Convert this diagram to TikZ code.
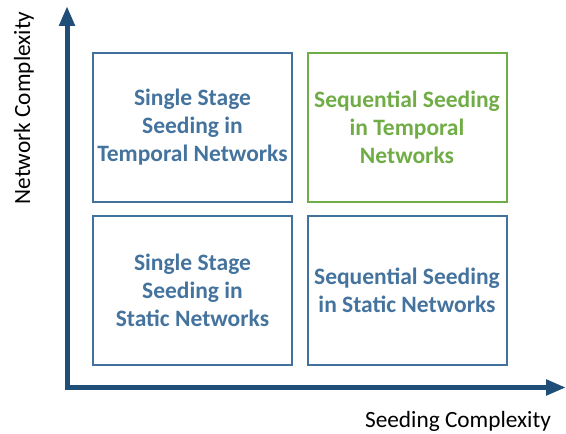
\documentclass[tikz,border=0pt]{standalone}
\usepackage{fontspec}
\setmainfont{Carlito}
\usetikzlibrary{arrows.meta}
\definecolor{axisblue}{HTML}{1F4E79}
\definecolor{boxblue}{HTML}{41719C}
\definecolor{txtblue}{HTML}{44739E}
\definecolor{boxgreen}{HTML}{70AD47}
\tikzset{
  quad/.style={draw=boxblue, line width=2bp, minimum width=199bp, minimum height=149bp,
    inner sep=0pt, align=center, text=txtblue, font=\fontsize{23.5bp}{28bp}\selectfont\bfseries},
  greenquad/.style={quad, draw=boxgreen, text=boxgreen},
  axislabel/.style={font=\fontsize{23.3bp}{27bp}\selectfont, text=black, inner sep=0pt},
  axis/.style={draw=axisblue, line width=5bp, line join=miter,
    {Triangle[length=20bp,width=15bp]}-{Triangle[length=20bp,width=15bp]}}
}
\begin{document}
\begin{tikzpicture}[x=1bp,y=-1bp]
\useasboundingbox (0,0) rectangle (566,434);
\coordinate (ytip) at (67,6);
\coordinate (origin) at (67,387.5);
\coordinate (xtip) at (566,387.5);
\draw[axis] (ytip) -- (origin) -- (xtip);
\node[quad] (tl) at (192.5,127.5) {Single Stage\\Seeding in\\Temporal Networks};
\node[greenquad] (tr) at (407,127.5) {Sequential Seeding\\in Temporal\\Networks};
\node[quad] (bl) at (192.5,290.5) {Single Stage\\Seeding in\\Static Networks};
\node[quad] (br) at (407,290.5) {Sequential Seeding\\in Static Networks};
\node[axislabel, rotate=90] (ylab) at (24,108) {Network Complexity};
\node[axislabel] (xlab) at (458,421) {Seeding Complexity};
\end{tikzpicture}
\end{document}
